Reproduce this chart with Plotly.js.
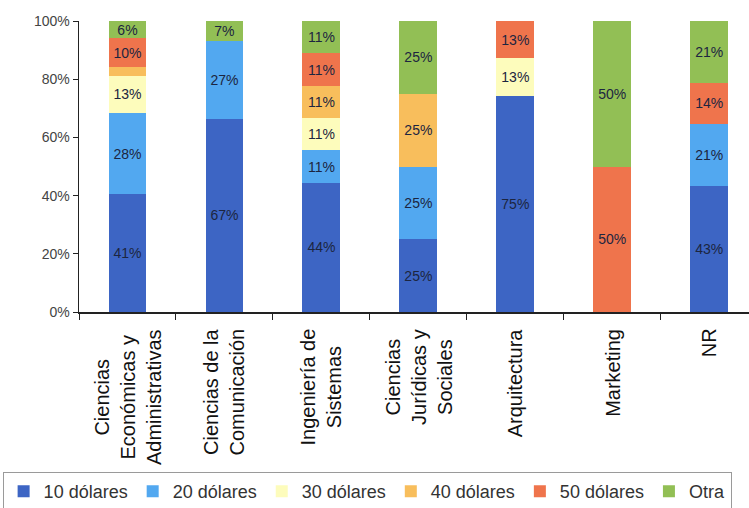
<!DOCTYPE html>
<html>
<head>
<meta charset="utf-8">
<script src="https://cdn.plot.ly/plotly-3.0.1.min.js"></script>
<style>html,body{margin:0;padding:0;background:#fff;}#chart{width:749px;height:508px;}</style>
</head>
<body>
<div id="chart"></div>
<script>
// Categories (x) and their display labels
const categories = ['CEA', 'CC', 'IS', 'CJS', 'ARQ', 'MKT', 'NR'];
const catLabels = [
  'Ciencias<br>Económicas y<br>Administrativas',
  'Ciencias de la<br>Comunicación',
  'Ingeniería de<br>Sistemas',
  'Ciencias<br>Jurídicas y<br>Sociales',
  'Arquitectura',
  'Marketing',
  'NR'
];

// Series values (percent)
const seriesNames = ['10 dólares', '20 dólares', '30 dólares', '40 dólares', '50 dólares', 'Otra'];
const v10   = [41, 67, 44, 25, 75, 0, 43];
const v20   = [28, 27, 11, 25, 0, 0, 21];
const v30   = [13, 0, 11, 0, 13, 0, 0];
const v40   = [3, 0, 11, 25, 0, 0, 0];
const v50   = [10, 0, 11, 0, 13, 50, 14];
const vOtra = [6, 7, 11, 25, 0, 50, 21];

// Bar label texts
const t10   = ['41%', '67%', '44%', '25%', '75%', '', '43%'];
const t20   = ['28%', '27%', '11%', '25%', '', '', '21%'];
const t30   = ['13%', '', '11%', '', '13%', '', ''];
const t40   = ['', '', '11%', '25%', '', '', ''];
const t50   = ['10%', '', '11%', '', '13%', '50%', '14%'];
const tOtra = ['6%', '7%', '11%', '25%', '', '50%', '21%'];

const colors = ['#3d65c4', '#52a8f0', '#fdfcbc', '#f8be5c', '#ef744c', '#92bf55'];
const allValues = [v10, v20, v30, v40, v50, vOtra];
const allTexts = [t10, t20, t30, t40, t50, tOtra];

const traces = allValues.map((vals, i) => ({
  type: 'bar',
  name: seriesNames[i],
  x: categories,
  y: vals,
  text: allTexts[i],
  textposition: 'inside',
  insidetextanchor: 'middle',
  textangle: 0,
  constraintext: 'none',
  insidetextfont: {family: 'Arial, Liberation Sans, sans-serif', size: 14, color: '#1c2540'},
  marker: {color: colors[i], line: {width: 0}},
  hoverinfo: 'skip'
}));

const annotations = categories.map((c, i) => ({
  x: c,
  xref: 'x',
  y: -0.05,
  yref: 'paper',
  text: catLabels[i],
  showarrow: false,
  textangle: -90,
  xanchor: 'center',
  yanchor: 'top',
  align: 'center',
  font: {family: 'Arial, Liberation Sans, sans-serif', size: 20, color: '#111'}
}));

const layout = {
  width: 749,
  height: 508,
  margin: {l: 79, r: 0, t: 21, b: 196, autoexpand: false},
  paper_bgcolor: '#ffffff',
  plot_bgcolor: '#ffffff',
  barmode: 'stack',
  barnorm: 'percent',
  bargap: 0.61,
  uniformtext: {mode: 'show', minsize: 14},
  showlegend: true,
  legend: {
    orientation: 'h',
    traceorder: 'normal',
    x: -0.114,
    xanchor: 'left',
    y: -0.55,
    yanchor: 'top',
    bgcolor: '#ffffff',
    bordercolor: '#9a9a9a',
    borderwidth: 1,
    itemwidth: 30,
    font: {family: 'Arial, Liberation Sans, sans-serif', size: 18, color: '#333'}
  },
  xaxis: {
    type: 'category',
    range: [-0.5, 6.41],
    showticklabels: false,
    showline: true,
    linecolor: '#222',
    linewidth: 1.5,
    ticks: 'outside',
    tickson: 'boundaries',
    ticklen: 6,
    tickcolor: '#222',
    showgrid: false,
    zeroline: false,
    fixedrange: true
  },
  yaxis: {
    range: [0, 100],
    dtick: 20,
    ticksuffix: '%',
    showline: true,
    linecolor: '#222',
    linewidth: 1.5,
    ticks: 'outside',
    ticklen: 5,
    tickcolor: '#222',
    showgrid: false,
    zeroline: false,
    tickfont: {family: 'Arial, Liberation Sans, sans-serif', size: 14, color: '#444'},
    fixedrange: true
  },
  annotations: annotations
};

Plotly.newPlot('chart', traces, layout, {displayModeBar: false, staticPlot: true});
</script>
</body>
</html>
